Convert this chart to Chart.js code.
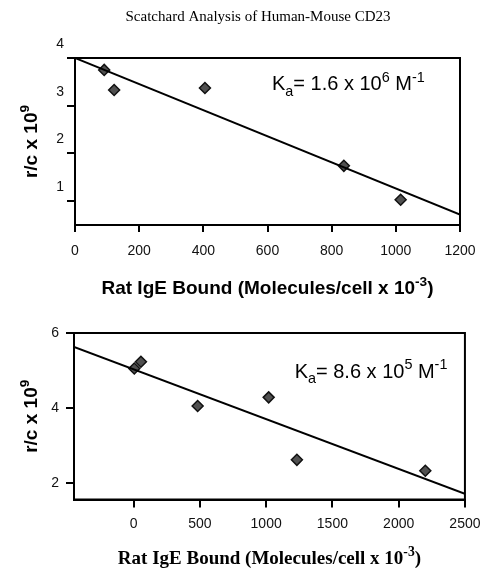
<!DOCTYPE html>
<html>
<head>
<meta charset="utf-8">
<script src="https://cdn.jsdelivr.net/npm/chart.js@4.4.1/dist/chart.umd.min.js"></script>
<style>
  html, body { margin: 0; padding: 0; background: #fff; }
  #wrap { position: relative; width: 489px; height: 568px; }
  canvas { position: absolute; left: 0; }
  #top-chart { top: 0; }
  #bottom-chart { top: 300px; }
</style>
</head>
<body>
<div id="wrap">
  <canvas id="top-chart" width="489" height="300"></canvas>
  <canvas id="bottom-chart" width="489" height="268"></canvas>
</div>
<script>
var pageTitle = 'Scatchard Analysis of Human-Mouse CD23'

// upper panel
var topBound = [91, 122, 405, 838, 1015]
var topRatio = [3.75, 3.33, 3.37, 1.74, 1.03]
var topFitX = [0, 1200]
var topFitY = [4.0, 0.72]
var topXTicks = [0, 200, 400, 600, 800, 1000, 1200]
var topYTicks = [1, 2, 3, 4]

// lower panel
var bottomBound = [5, 55, 483, 1019, 1232, 2201]
var bottomRatio = [5.05, 5.23, 4.05, 4.28, 2.61, 2.32]
var bottomFitX = [-450, 2500]
var bottomFitY = [5.63, 1.7]
var bottomXTicks = [0, 500, 1000, 1500, 2000, 2500]
var bottomYTicks = [2, 4, 6]

// text runs: [text, shift] where 1 = superscript, -1 = subscript
var yTitleRuns = [['r/c x 10', 0], ['9', 1]]
var xTitleRuns = [['Rat IgE Bound (Molecules/cell x 10', 0], ['-3', 1], [')', 0]]
var topNoteRuns = [['K', 0], ['a', -1], ['= 1.6 x 10', 0], ['6', 1], [' M', 0], ['-1', 1]]
var bottomNoteRuns = [['K', 0], ['a', -1], ['= 8.6 x 10', 0], ['5', 1], [' M', 0], ['-1', 1]]

var SANS = "'Liberation Sans', Arial, Helvetica, sans-serif"
var SERIF = "'Liberation Serif', 'Times New Roman', serif"

function drawRich(ctx, runs, x, y, size, weight, family, align) {
  var fontOf = function (r) {
    var s = r[1] ? size * 0.72 : size
    return weight + ' ' + s + 'px ' + family
  }
  var total = 0
  runs.forEach(function (r) { ctx.font = fontOf(r); total += ctx.measureText(r[0]).width })
  var cx = align === 'center' ? x - total / 2 : x
  ctx.textAlign = 'left'
  ctx.textBaseline = 'alphabetic'
  runs.forEach(function (r) {
    ctx.font = fontOf(r)
    var dy = r[1] > 0 ? -size * 0.42 : (r[1] < 0 ? size * 0.28 : 0)
    ctx.fillText(r[0], cx, y + dy)
    cx += ctx.measureText(r[0]).width
  })
}

// frame, axis titles and the Ka note
var decor = {
  id: 'decor',
  afterDraw: function (chart, args, o) {
    var ctx = chart.ctx, a = chart.chartArea
    ctx.save()
    ctx.strokeStyle = '#000'
    ctx.lineWidth = 2
    ctx.strokeRect(a.left, a.top, a.right - a.left, a.bottom - a.top)
    ctx.fillStyle = '#000'
    if (o.pageTitle) {
      drawRich(ctx, [[o.pageTitle, 0]], o.pageTitleAt[0], o.pageTitleAt[1], 15, 'normal', SERIF, 'center')
    }
    drawRich(ctx, xTitleRuns, (a.left + a.right) / 2, a.bottom + o.xTitleGap, o.xTitleSize, 'bold', o.xTitleFamily, 'center')
    ctx.save()
    ctx.translate(o.yTitleX, (a.top + a.bottom) / 2)
    ctx.rotate(-Math.PI / 2)
    drawRich(ctx, yTitleRuns, 0, 0, 19, 'bold', SANS, 'center')
    ctx.restore()
    var nx = chart.scales.x.getPixelForValue(o.noteAt[0])
    var ny = chart.scales.y.getPixelForValue(o.noteAt[1])
    drawRich(ctx, o.note, nx, ny, 20, 'normal', SANS, 'left')
    ctx.restore()
  }
}

function points(xs, ys) {
  return xs.map(function (x, i) { return {x: x, y: ys[i]} })
}

function axis(min, max, ticks, opts) {
  return {
    type: 'linear',
    min: min,
    max: max,
    afterBuildTicks: function (scale) {
      scale.ticks = ticks.map(function (v) { return {value: v} })
    },
    afterFit: function (scale) {
      if (opts.width) scale.width = opts.width
      if (opts.height) scale.height = opts.height
    },
    grid: {display: true, drawOnChartArea: false, drawTicks: true, tickLength: opts.tickLength, color: '#000', lineWidth: 2},
    border: {display: true, color: '#000', width: 2},
    ticks: {
      color: '#111',
      padding: opts.padding,
      labelOffset: opts.labelOffset || 0,
      font: {family: SANS, size: 14},
      callback: function (v) { return String(v) }
    }
  }
}

function makeChart(id, bound, ratio, fitX, fitY, x, y, padding, decorOpts) {
  return new Chart(document.getElementById(id), {
    type: 'scatter',
    data: {
      datasets: [{
        data: points(fitX, fitY),
        showLine: true,
        borderColor: '#000',
        borderWidth: 2,
        pointRadius: 0,
        tension: 0
      }, {
        data: points(bound, ratio),
        pointStyle: 'rectRot',
        pointRadius: 5.5,
        backgroundColor: '#505050',
        borderColor: '#111',
        borderWidth: 1.5
      }]
    },
    options: {
      responsive: false,
      animation: false,
      layout: {padding: padding},
      scales: {x: x, y: y},
      plugins: {legend: {display: false}, tooltip: {enabled: false}, decor: decorOpts}
    },
    plugins: [decor]
  })
}

makeChart('top-chart', topBound, topRatio, topFitX, topFitY,
  axis(0, 1200, topXTicks, {height: 75, tickLength: 7, padding: 10.5}),
  axis(0.5, 4, topYTicks, {width: 75, tickLength: 8, padding: 3, labelOffset: -14}),
  {top: 58, right: 29, bottom: 0, left: 0},
  {pageTitle: pageTitle, pageTitleAt: [258, 21], xTitleGap: 69, xTitleSize: 19, xTitleFamily: SANS,
   yTitleX: 37, note: topNoteRuns, noteAt: [614, 3.33]})

makeChart('bottom-chart', bottomBound, bottomRatio, bottomFitX, bottomFitY,
  axis(-450, 2500, bottomXTicks, {height: 68.5, tickLength: 8, padding: 8.5}),
  axis(1.55, 6, bottomYTicks, {width: 74, tickLength: 8, padding: 7}),
  {top: 33, right: 20, bottom: 0, left: 0},
  {xTitleGap: 64.5, xTitleSize: 19, xTitleFamily: SERIF,
   yTitleX: 36.5, note: bottomNoteRuns, noteAt: [1215, 4.81]})
</script>
</body>
</html>
